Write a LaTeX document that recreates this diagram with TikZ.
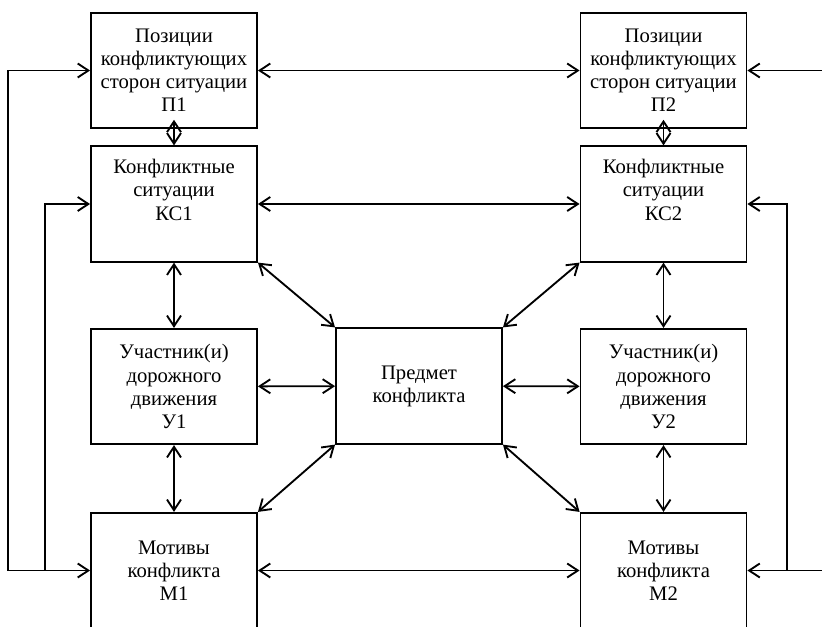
\documentclass[tikz,border=0pt]{standalone}
\usepackage{fontspec}
\setmainfont{Liberation Serif}
\usetikzlibrary{positioning,calc,arrows.meta}
\tikzset{
    scheme/.style={
        x=0.75pt, y=-0.75pt,
        font=\fontsize{15.5}{17.3}\selectfont,
        % Блоки схемы (прямоугольник)
        block/.style={draw, rectangle, align=center, line width=1.4pt,
                      minimum width=124.5pt, minimum height=86.5pt,
                      inner sep=1pt},
        % Двусторонняя связь
        link/.style={line width=1.4pt,
                     {Straight Barb[length=8pt,width=10.5pt]}-{Straight Barb[length=8pt,width=10.5pt]}},
        % Обратная связь (одна стрелка)
        feed/.style={line width=1.4pt, -{Straight Barb[length=8pt,width=10.5pt]}}
    }
}

\begin{document}
\begin{tikzpicture}[scheme]
  \useasboundingbox (0,0) rectangle (822,626);
  % Блоки
  \node[block] (p1) at (174,70.5) {Позиции\\конфликтующих\\сторон ситуации\\П1};
  \node[block] (p2) at (663.5,70.5) {Позиции\\конфликтующих\\сторон ситуации\\П2};
  \node[block] (ks1) at (174,204) {Конфликтные\\ситуации\\КС1\\[4pt]\mbox{}};
  \node[block] (ks2) at (663.5,204) {Конфликтные\\ситуации\\КС2\\[4pt]\mbox{}};
  \node[block] (u1) at (174,386.5) {Участник(и)\\дорожного\\движения\\У1};
  \node[block] (u2) at (663.5,386.5) {Участник(и)\\дорожного\\движения\\У2};
  \node[block] (m1) at (174,570.5) {Мотивы\\конфликта\\М1};
  \node[block] (m2) at (663.5,570.5) {Мотивы\\конфликта\\М2};
  \node[block] (pr) at (419,386) {Предмет\\конфликта};

  \coordinate (l1) at (8,0);
  \coordinate (l2) at (45,0);
  \coordinate (r1) at (822,0);
  \coordinate (r2) at (787,0);

  % Горизонтальные связи
  \draw[link] (p1) -- (p2);
  \draw[link] (ks1) -- (ks2);
  \draw[link] (m1) -- (m2);
  \draw[link] (u1) -- (pr);
  \draw[link] (pr) -- (u2);

  % Вертикальные связи
  \draw[link, shorten <=-7pt] (p1) -- (ks1);
  \draw[link] (ks1) -- (u1);
  \draw[link] (u1) -- (m1);
  \draw[link, shorten <=-7pt] (p2) -- (ks2);
  \draw[link] (ks2) -- (u2);
  \draw[link] (u2) -- (m2);

  % Диагональные связи
  \draw[link] (ks1.south east) -- (pr.north west);
  \draw[link] (m1.north east) -- (pr.south west);
  \draw[link] (ks2.south west) -- (pr.north east);
  \draw[link] (m2.north west) -- (pr.south east);

  % Обратные связи по краям
  \draw[link] (p1.west) -| (l1 |- m1.west) -- (m1.west);
  \draw[feed] (l2 |- m1.west) |- (ks1.west);
  \draw[feed] (r1 |- p2.east) -- (p2.east);
  \draw[feed] (r1 |- m2.east) -- (m2.east);
  \draw[feed] (r2 |- m2.east) |- (ks2.east);
\end{tikzpicture}
\end{document}
